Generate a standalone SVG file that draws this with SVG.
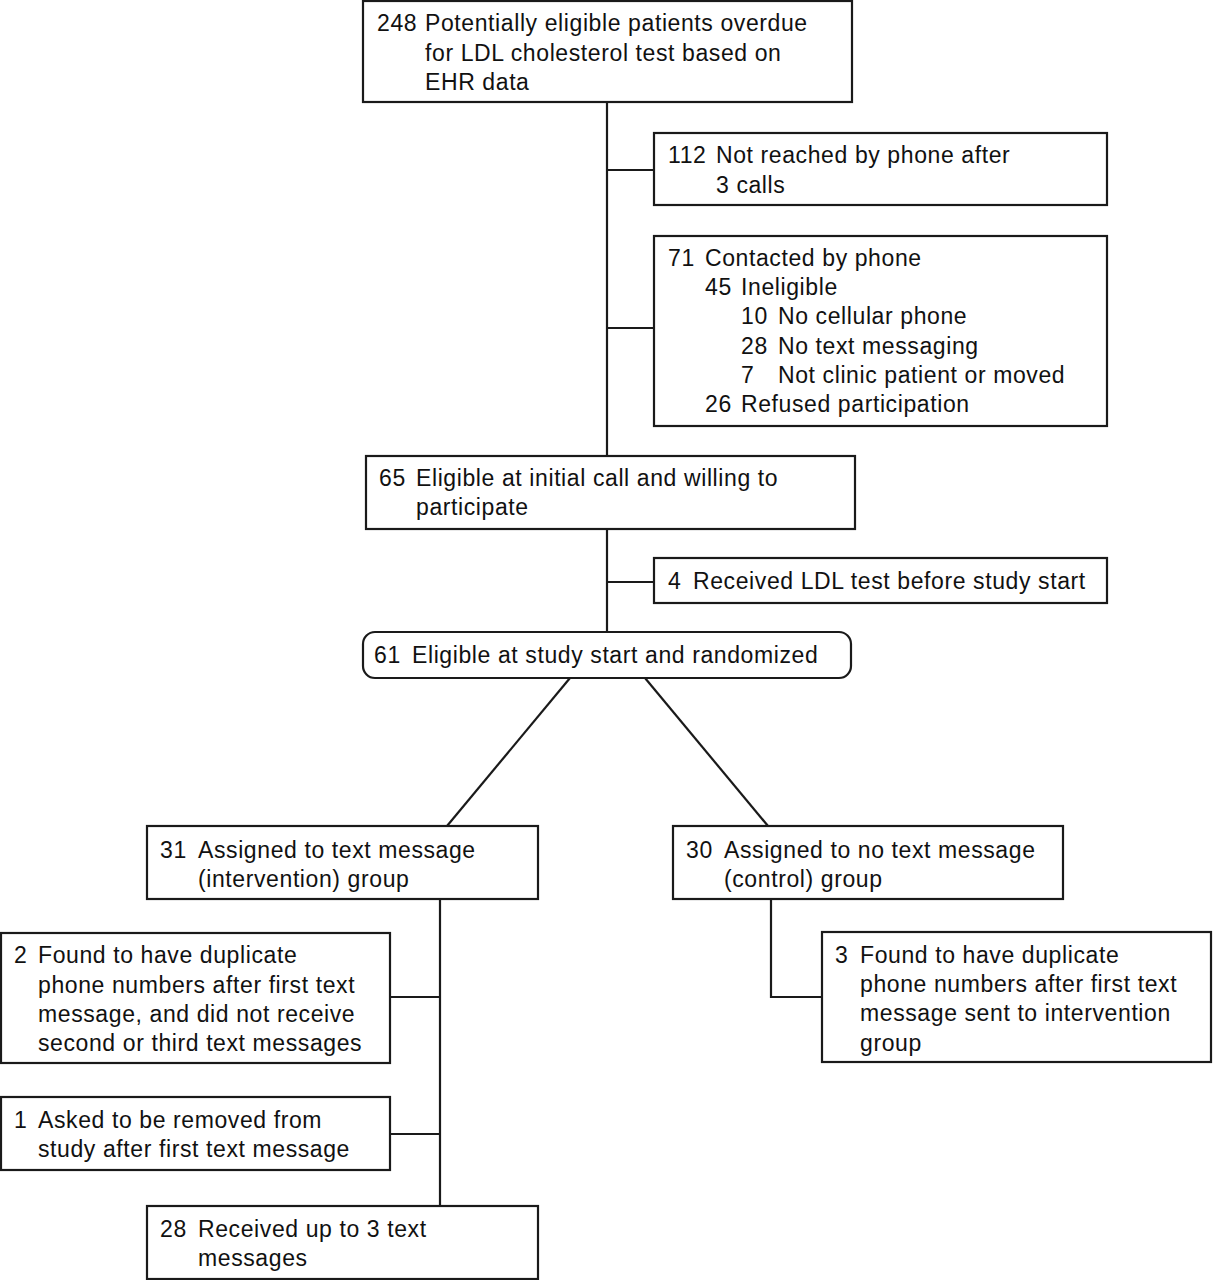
<svg xmlns="http://www.w3.org/2000/svg" width="1213" height="1280" viewBox="0 0 1213 1280">
<style>
rect{fill:#fff;stroke:#1a1a1a;stroke-width:2.2}
.c line,.c polyline{stroke:#1a1a1a;stroke-width:2.2;fill:none}
text{font-family:"Liberation Sans",Arial,sans-serif;font-size:23px;letter-spacing:0.6px;fill:#111}
</style>
<rect x="0" y="0" width="1213" height="1280" style="stroke:none"/>
<g class="c" id="connectors">
<line x1="607" y1="102" x2="607" y2="456"/>
<line x1="607" y1="170" x2="654" y2="170"/>
<line x1="607" y1="328" x2="654" y2="328"/>
<line x1="607" y1="529" x2="607" y2="632"/>
<line x1="607" y1="582" x2="654" y2="582"/>
<line x1="570" y1="678" x2="447" y2="826"/>
<line x1="645" y1="678" x2="768" y2="826"/>
<line x1="440" y1="899" x2="440" y2="1206"/>
<line x1="390" y1="997" x2="440" y2="997"/>
<line x1="390" y1="1134" x2="440" y2="1134"/>
<polyline points="771,899 771,997 822,997"/>
</g>
<g id="n248">
<rect x="363" y="1" width="489" height="101"/>
<text x="377" y="31">248</text><text x="425" y="31">Potentially eligible patients overdue</text>
<text x="425" y="61">for LDL cholesterol test based on</text>
<text x="425" y="90">EHR data</text>
</g>
<g id="n112">
<rect x="654" y="133" width="453" height="72"/>
<text x="668" y="163">112</text><text x="716" y="163">Not reached by phone after</text>
<text x="716" y="193">3 calls</text>
</g>
<g id="n71">
<rect x="654" y="236" width="453" height="190"/>
<text x="668" y="266">71</text><text x="705" y="266">Contacted by phone</text>
<text x="705" y="295">45</text><text x="741" y="295">Ineligible</text>
<text x="741" y="324">10</text><text x="778" y="324">No cellular phone</text>
<text x="741" y="354">28</text><text x="778" y="354">No text messaging</text>
<text x="741" y="383">7</text><text x="778" y="383">Not clinic patient or moved</text>
<text x="705" y="412">26</text><text x="741" y="412">Refused participation</text>
</g>
<g id="n65">
<rect x="366" y="456" width="489" height="73"/>
<text x="379" y="486">65</text><text x="416" y="486">Eligible at initial call and willing to</text>
<text x="416" y="515">participate</text>
</g>
<g id="n4">
<rect x="654" y="558" width="453" height="45"/>
<text x="668" y="589">4</text><text x="693" y="589">Received LDL test before study start</text>
</g>
<g id="n61">
<rect x="363" y="632" width="488" height="46" rx="12" ry="12"/>
<text x="374" y="663">61</text><text x="412" y="663">Eligible at study start and randomized</text>
</g>
<g id="n31">
<rect x="147" y="826" width="391" height="73"/>
<text x="160" y="858">31</text><text x="198" y="858">Assigned to text message</text>
<text x="198" y="887">(intervention) group</text>
</g>
<g id="n30">
<rect x="673" y="826" width="390" height="73"/>
<text x="686" y="858">30</text><text x="724" y="858">Assigned to no text message</text>
<text x="724" y="887">(control) group</text>
</g>
<g id="n2">
<rect x="1" y="933" width="389" height="130"/>
<text x="14" y="963">2</text><text x="38" y="963">Found to have duplicate</text>
<text x="38" y="993">phone numbers after first text</text>
<text x="38" y="1022">message, and did not receive</text>
<text x="38" y="1051">second or third text messages</text>
</g>
<g id="n3">
<rect x="822" y="932" width="389" height="130"/>
<text x="835" y="963">3</text><text x="860" y="963">Found to have duplicate</text>
<text x="860" y="992">phone numbers after first text</text>
<text x="860" y="1021">message sent to intervention</text>
<text x="860" y="1051">group</text>
</g>
<g id="n1">
<rect x="1" y="1097" width="389" height="73"/>
<text x="14" y="1128">1</text><text x="38" y="1128">Asked to be removed from</text>
<text x="38" y="1157">study after first text message</text>
</g>
<g id="n28">
<rect x="147" y="1206" width="391" height="73"/>
<text x="160" y="1237">28</text><text x="198" y="1237">Received up to 3 text</text>
<text x="198" y="1266">messages</text>
</g>
</svg>
